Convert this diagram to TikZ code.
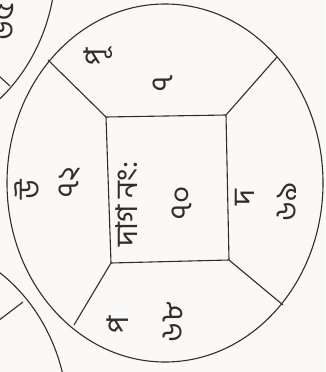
\documentclass[tikz,border=0pt]{standalone}
\usepackage{fontspec}
\newfontfamily\bngfont[Script=Bengali]{Hind Siliguri}
\usetikzlibrary{positioning}
\definecolor{ink}{HTML}{2E2E2E}
\definecolor{paper}{HTML}{FBF8F8}

\begin{document}
\begin{tikzpicture}[x=1pt, y=-1pt,
  plotline/.style={draw=ink, line width=1.1pt},
  txt/.style={font=\bngfont\fontsize{30}{32}\selectfont, text=ink, rotate=90, inner sep=0pt}]
  \fill[paper] (0,0) rectangle (325,372);
  \useasboundingbox (0,0) rectangle (325,372);
  \clip (0,0) rectangle (325,372);
  % neighbouring plots
  \draw[plotline] (-102,-38) ellipse [x radius=158pt, y radius=179pt];
  \draw[plotline] (-90,420) ellipse [x radius=158pt, y radius=179pt];
  \coordinate (nwa) at (-12,66); \coordinate (nwb) at (10,86);
  \draw[plotline] (nwa) -- (nwb);
  \coordinate (swa) at (-10,327); \coordinate (swb) at (23,302);
  \draw[plotline] (swa) -- (swb);
  \node[txt] (nbr) at (4,22) {৬৫};
  % main plot
  \draw[plotline] (165,183) ellipse [x radius=158pt, y radius=179pt];
  \coordinate (tl) at (106,117); \coordinate (tr) at (226,115);
  \coordinate (br) at (229,260); \coordinate (bl) at (111,263);
  \coordinate (etl) at (48,60);  \coordinate (etr) at (277,57);
  \coordinate (ebr) at (283,305); \coordinate (ebl) at (74,325);
  \draw[plotline] (tl) -- (tr) -- (br) -- (bl) -- cycle;
  \draw[plotline] (tl) -- (etl);
  \draw[plotline] (tr) -- (etr);
  \draw[plotline] (br) -- (ebr);
  \draw[plotline] (bl) -- (ebl);
  % labels
  \node[txt] (dag) at (127,204) {দাগ নং:};
  \node[txt] (num) at (182,203) {৭০};
  \node[txt] (uttar) at (27,190) {উ};
  \node[txt] (num72) at (70,182) {৭২};
  \node[txt] (purba) at (98,57) {পূ};
  \node[txt] (num71) at (163,83) {৭};
  \node[txt] (dakshin) at (245,198) {দ};
  \node[txt] (num69) at (287,202) {৬৯};
  \node[txt] (paschim) at (118,325) {প};
  \node[txt] (num68) at (173,322) {৬৮};
\end{tikzpicture}
\end{document}
